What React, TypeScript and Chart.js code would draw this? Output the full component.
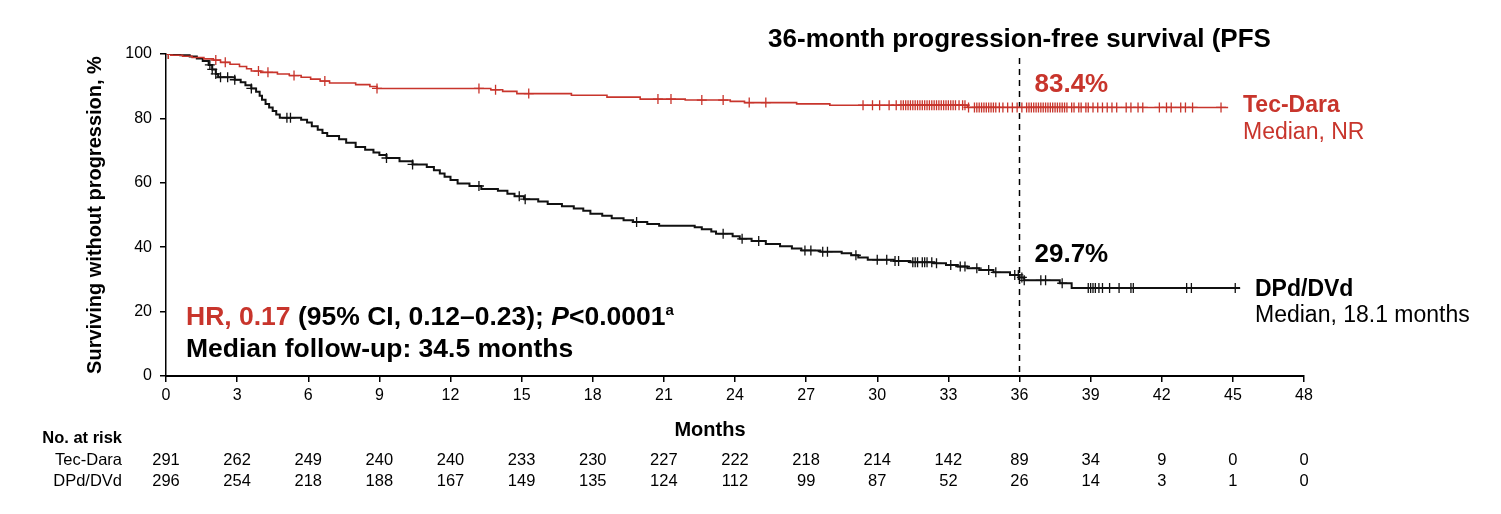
import React, { useEffect, useRef } from 'react';
import { Chart, registerables } from 'chart.js';

Chart.register(...registerables);

const RED = '#c8352c';
const BLACK = '#111111';
const FONT = '"Liberation Sans", Arial, Helvetica, sans-serif';

// ---------- data ----------
const monthTicks = [0, 3, 6, 9, 12, 15, 18, 21, 24, 27, 30, 33, 36, 39, 42, 45, 48];

const tecTimes = [0, 0.2, 0.7, 1.1, 1.6, 2.0, 2.3, 2.7, 3.1, 3.4, 3.6, 4.0, 4.7, 5.2, 5.7, 6.1, 6.5, 6.9, 8.0, 8.6, 8.9, 13.7, 14.2, 14.8, 17.1, 18.6, 20.0, 21.9, 23.8, 24.4, 26.6, 28.0, 33.8];
const tecSurv = [100, 99.6, 99.3, 98.9, 98.5, 98.1, 97.4, 96.8, 96.1, 95.4, 94.7, 94.3, 93.8, 93.3, 92.8, 92.2, 91.6, 91.0, 90.5, 89.9, 89.3, 88.9, 88.4, 87.7, 87.2, 86.6, 86.0, 85.7, 85.3, 84.9, 84.5, 84.1, 83.4];
const tecEnd = 44.8;
const tecCensor = [0.1, 2.1, 2.5, 3.9, 4.3, 5.4, 6.7, 8.9, 13.2, 13.9, 15.3, 20.75, 21.3, 22.6, 23.5, 24.6, 25.3,
  29.4, 29.8, 30.1, 30.5, 30.8, 31.0, 31.1, 31.2, 31.3, 31.4, 31.5, 31.6, 31.7, 31.8, 31.9, 32.0, 32.1, 32.2, 32.3, 32.4, 32.5, 32.6, 32.7, 32.8, 32.9, 33.0, 33.1, 33.2, 33.3, 33.45, 33.6, 33.7, 33.85, 34.1,
  34.2, 34.3, 34.4, 34.5, 34.6, 34.7, 34.8, 34.9, 35.0, 35.15, 35.3, 35.5, 35.7, 35.9, 36.1, 36.3, 36.4, 36.5, 36.6, 36.7, 36.8, 36.9, 37.0, 37.1, 37.2, 37.3, 37.4, 37.5, 37.6, 37.7, 37.8, 37.9, 38.0, 38.2, 38.3, 38.5, 38.6, 38.8, 38.9, 39.1, 39.3, 39.5, 39.7, 39.9, 40.1,
  40.5, 40.7, 41.0, 41.2, 41.9, 42.2, 42.4, 42.8, 43.0, 43.3, 44.5];

const dvdTimes = [0, 0.6, 1.0, 1.3, 1.55, 1.8, 1.95, 2.1, 2.2, 2.9, 3.15, 3.35, 3.6, 3.8, 3.95, 4.05, 4.2, 4.35, 4.5, 4.65, 4.8, 5.7, 5.95, 6.15, 6.4, 6.6, 6.8, 7.3, 7.6, 8.0, 8.4, 8.75, 9.0, 9.3, 9.85, 10.4, 11.0, 11.3, 11.55, 11.75, 12.0, 12.3, 12.8, 13.3, 14.0, 14.4, 14.7, 15.1, 15.7, 16.1, 16.7, 17.2, 17.6, 17.9, 18.4, 18.8, 19.3, 19.7, 20.3, 20.8, 22.3, 22.6, 23.0, 23.2, 23.9, 24.2, 24.7, 25.3, 25.9, 26.4, 26.8, 27.6, 28.5, 28.9, 29.2, 29.6, 30.7, 31.4, 32.4, 32.9, 33.4, 33.8, 34.3, 34.9, 35.6, 36.0, 36.2, 37.7, 38.2];
const dvdSurv = [100, 99.6, 99.2, 98.6, 97.8, 96.6, 95.2, 93.8, 92.8, 92.0, 91.2, 90.3, 89.3, 88.3, 87.0, 85.8, 84.5, 83.4, 82.3, 81.2, 80.2, 79.6, 78.7, 77.6, 76.5, 75.5, 74.5, 73.5, 72.4, 71.1, 70.3, 69.4, 68.6, 67.7, 66.7, 65.7, 64.9, 63.9, 62.9, 61.9, 60.9, 59.8, 59.0, 58.1, 57.5, 56.6, 55.8, 54.9, 54.2, 53.4, 52.7, 52.0, 51.3, 50.4, 49.8, 49.0, 48.4, 47.8, 47.2, 46.7, 46.2, 45.6, 44.9, 44.2, 43.4, 42.6, 41.9, 41.0, 40.3, 39.6, 39.0, 38.6, 38.1, 37.5, 36.8, 36.1, 35.7, 35.3, 35.0, 34.5, 34.0, 33.5, 32.9, 32.2, 31.4, 30.6, 29.7, 28.8, 27.3];
const dvdEnd = 45.3;
const dvdCensor = [0.1, 1.85, 1.95, 2.1, 2.3, 2.6, 2.9, 3.6, 5.1, 5.25, 9.3, 10.4, 13.2, 14.9, 15.15, 19.85, 23.5, 24.3, 25.0, 26.95, 27.2, 27.7, 27.9,
  29.1, 30.0, 30.4, 30.75, 30.9, 31.5, 31.6, 31.7, 31.9, 32.0, 32.1, 32.3, 32.5, 33.1, 33.5, 33.7, 34.2, 34.7, 35.0,
  35.8, 35.95, 36.1, 36.2, 36.9, 37.1, 37.8, 38.9, 39.0, 39.1, 39.2, 39.35, 39.5, 39.8, 40.2, 40.7, 40.8, 43.05, 43.25, 45.1];

const pfs36 = [83.4, 29.7];
const riskTec = [291, 262, 249, 240, 240, 233, 230, 227, 222, 218, 214, 142, 89, 34, 9, 0, 0];
const riskDvd = [296, 254, 218, 188, 167, 149, 135, 124, 112, 99, 87, 52, 26, 14, 3, 1, 0];

// ---------- helpers ----------
function survAt(times: number[], surv: number[], t: number) {
  let v = surv[0];
  for (let i = 0; i < times.length; i++) {
    if (times[i] <= t) v = surv[i];
    else break;
  }
  return v;
}
function curve(times: number[], surv: number[], end: number) {
  const pts = times.map((t, i) => ({ x: t, y: surv[i] }));
  pts.push({ x: end, y: surv[surv.length - 1] });
  return pts;
}
function censorPts(times: number[], surv: number[], c: number[]) {
  return c.map((t) => ({ x: t, y: survAt(times, surv, t) }));
}

function drawRich(ctx: CanvasRenderingContext2D, x: number, y: number, parts: { t: string; f: string; c: string; dy?: number }[]) {
  let cx = x;
  for (const p of parts) {
    ctx.font = p.f;
    ctx.fillStyle = p.c;
    ctx.fillText(p.t, cx, y + (p.dy || 0));
    cx += ctx.measureText(p.t).width;
  }
}

const annotPlugin = {
  id: 'annot',
  beforeDatasetsDraw(chart: any) {
    const { ctx, scales } = chart;
    const x = scales.x, y = scales.y;
    const x36 = x.getPixelForValue(36);
    ctx.save();
    ctx.setLineDash([6, 5]);
    ctx.strokeStyle = '#000';
    ctx.lineWidth = 1.5;
    ctx.beginPath();
    ctx.moveTo(x36, 58);
    ctx.lineTo(x36, y.getPixelForValue(0));
    ctx.stroke();
    ctx.restore();
  },
  afterDraw(chart: any) {
    const { ctx, scales } = chart;
    const x = scales.x;
    const x36 = x.getPixelForValue(36);
    ctx.save();
    ctx.textBaseline = 'middle';

    // title
    ctx.textAlign = 'center';
    ctx.fillStyle = '#000';
    ctx.font = `bold 26px ${FONT}`;
    ctx.fillText('36-month progression-free survival (PFS', x36, 40);

    // 36-month values
    ctx.textAlign = 'left';
    ctx.fillStyle = RED;
    ctx.fillText(`${pfs36[0].toFixed(1)}%`, x36 + 15, 85);
    ctx.fillStyle = '#000';
    ctx.fillText(`${pfs36[1].toFixed(1)}%`, x36 + 15, 255);

    // series labels
    ctx.font = `bold 23px ${FONT}`;
    ctx.fillStyle = RED;
    ctx.fillText('Tec-Dara', 1243, 106);
    ctx.font = `23px ${FONT}`;
    ctx.fillText('Median, NR', 1243, 133);
    ctx.fillStyle = '#000';
    ctx.font = `bold 23px ${FONT}`;
    ctx.fillText('DPd/DVd', 1255, 290);
    ctx.font = `23px ${FONT}`;
    ctx.fillText('Median, 18.1 months', 1255, 316);

    // HR text
    const B = `bold 26.5px ${FONT}`;
    drawRich(ctx, 186, 318, [
      { t: 'HR, 0.17', f: B, c: RED },
      { t: ' (95% CI, 0.12\u20130.23); ', f: B, c: '#000' },
      { t: 'P', f: `italic bold 26.5px ${FONT}`, c: '#000' },
      { t: '<0.0001', f: B, c: '#000' },
      { t: 'a', f: `bold 15px ${FONT}`, c: '#000', dy: -7 },
    ]);
    ctx.font = B;
    ctx.fillStyle = '#000';
    ctx.fillText('Median follow-up: 34.5 months', 186, 350);

    // Months
    ctx.textAlign = 'center';
    ctx.font = `bold 20px ${FONT}`;
    ctx.fillText('Months', 710, 430);

    // risk table
    ctx.textAlign = 'right';
    ctx.font = `bold 16.5px ${FONT}`;
    ctx.fillText('No. at risk', 122, 438);
    ctx.font = `16.5px ${FONT}`;
    ctx.fillText('Tec-Dara', 122, 460);
    ctx.fillText('DPd/DVd', 122, 481);
    ctx.textAlign = 'center';
    monthTicks.forEach((m, i) => {
      const px = x.getPixelForValue(m);
      ctx.fillText(String(riskTec[i]), px, 460);
      ctx.fillText(String(riskDvd[i]), px, 481);
    });
    ctx.restore();
  },
};

export default function App() {
  const ref = useRef<HTMLCanvasElement | null>(null);
  useEffect(() => {
    if (!ref.current) return;
    const chart = new Chart(ref.current, {
      type: 'line',
      data: {
        datasets: [
          {
            type: 'scatter',
            label: 'Tec-Dara censored',
            data: censorPts(tecTimes, tecSurv, tecCensor),
            pointStyle: 'cross',
            pointRadius: 5,
            borderColor: RED,
            backgroundColor: RED,
            borderWidth: 1.3,
            showLine: false,
          } as any,
          {
            type: 'scatter',
            label: 'DPd/DVd censored',
            data: censorPts(dvdTimes, dvdSurv, dvdCensor),
            pointStyle: 'cross',
            pointRadius: 5,
            borderColor: BLACK,
            backgroundColor: BLACK,
            borderWidth: 1.3,
            showLine: false,
          } as any,
          {
            label: 'Tec-Dara',
            data: curve(tecTimes, tecSurv, tecEnd),
            stepped: 'before',
            borderColor: RED,
            borderWidth: 1.6,
            pointRadius: 0,
            fill: false,
          },
          {
            label: 'DPd/DVd',
            data: curve(dvdTimes, dvdSurv, dvdEnd),
            stepped: 'before',
            borderColor: BLACK,
            borderWidth: 2,
            pointRadius: 0,
            fill: false,
          },
        ],
      },
      options: {
        animation: false,
        responsive: true,
        maintainAspectRatio: false,
        events: [],
        layout: { padding: { left: 0, right: 197, top: 54, bottom: 0 } },
        plugins: { legend: { display: false }, tooltip: { enabled: false } },
        scales: {
          x: {
            type: 'linear',
            min: 0,
            max: 48,
            afterFit: (s: any) => { s.height = 138; },
            ticks: { stepSize: 3, autoSkip: false, color: '#000', font: { family: FONT, size: 16 }, padding: 4, maxRotation: 0 },
            grid: { drawOnChartArea: false, drawTicks: true, tickLength: 6, color: '#000', lineWidth: 1.5 },
            border: { display: true, color: '#000', width: 2 },
          },
          y: {
            min: 0,
            max: 100,
            afterFit: (s: any) => { s.width = 166; },
            ticks: { stepSize: 20, color: '#000', font: { family: FONT, size: 16 }, padding: 8 },
            grid: { drawOnChartArea: false, drawTicks: true, tickLength: 6, color: '#000', lineWidth: 1.5 },
            border: { display: true, color: '#000', width: 1.5 },
            title: {
              display: true,
              text: 'Surviving without progression, %',
              color: '#000',
              font: { family: FONT, size: 20, weight: 'bold' },
              padding: { top: 83, bottom: 0 },
            },
          },
        },
      } as any,
      plugins: [annotPlugin],
    });
    return () => chart.destroy();
  }, []);
  return (
    <div style={{ position: 'fixed', left: 0, top: 0, width: 1501, height: 514, background: '#fff' }}>
      <canvas ref={ref} />
    </div>
  );
}
